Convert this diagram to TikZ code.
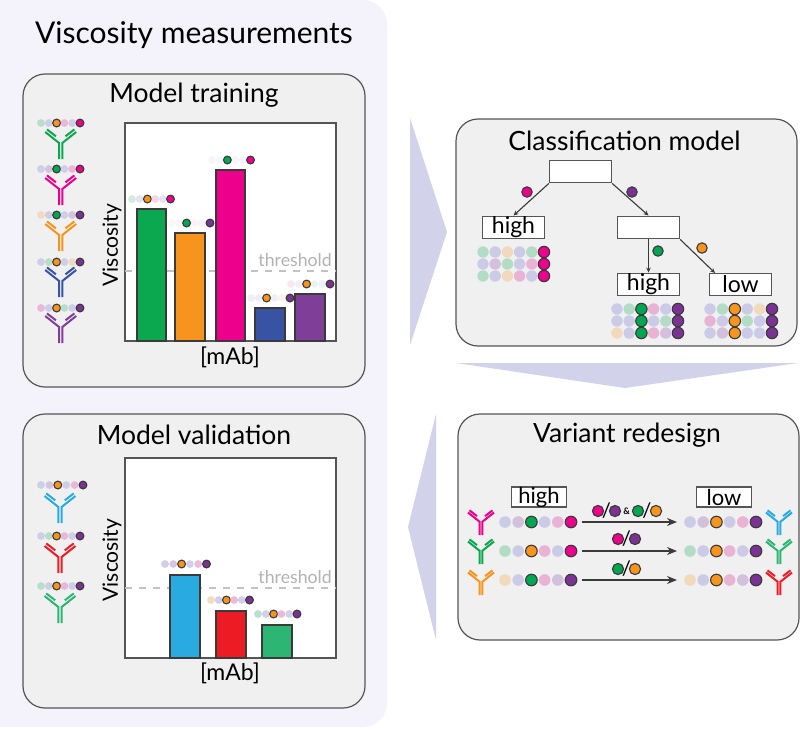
\documentclass[tikz,border=0pt]{standalone}
\usepackage{fontspec}
\setmainfont{Lato}
\usetikzlibrary{arrows.meta}
\definecolor{cardfill}{HTML}{F0F0F0}
\definecolor{cardline}{HTML}{555555}
\definecolor{panelbg}{HTML}{F4F2FB}
\definecolor{chev}{HTML}{D3D2EB}
\definecolor{ink}{HTML}{3A3A3A}
\definecolor{cG}{HTML}{0BA84F}
\definecolor{cO}{HTML}{F7941D}
\definecolor{cM}{HTML}{EC008C}
\definecolor{cB}{HTML}{3953A4}
\definecolor{cV}{HTML}{7F3F98}
\definecolor{cC}{HTML}{29ABE2}
\definecolor{cR}{HTML}{ED1C24}
\definecolor{cS}{HTML}{2DB573}
\definecolor{dG}{HTML}{00A651}
\definecolor{dV}{HTML}{7B3294}
\definecolor{pa}{HTML}{CBCBE8}
\definecolor{pg}{HTML}{B3DCC6}
\definecolor{pp}{HTML}{F1D9BC}
\definecolor{pk}{HTML}{E9B3D5}
\definecolor{pm}{HTML}{D2C0DC}
\def\paleop{1}
\tikzset{
  x=1pt,y=-1pt,
  card/.style={draw=cardline,fill=cardfill,line width=1.2pt,rounded corners=22pt},
  plot/.style={draw=cardline,fill=white,line width=1.6pt},
  bar/.style={draw=ink,line width=1.4pt},
  thr/.style={draw=black!24,line width=1.4pt,dash pattern=on 7pt off 7pt},
  thrtext/.style={text=black!30,font=\fontsize{17.7}{17.7}\selectfont,inner sep=0pt,anchor=base east},
  title/.style={font=\fontsize{26.5}{26.5}\selectfont,inner sep=0pt,text=black},
  axis/.style={font=\fontsize{21}{21}\selectfont,inner sep=0pt,text=black},
  mablabel/.style={font=\fontsize{23}{23}\selectfont,inner sep=0pt,text=black},
  leaf/.style={draw=cardline,fill=white,line width=1.4pt,minimum width=62pt,minimum height=22.5pt,inner sep=0pt,font=\fontsize{23}{23}\selectfont,text=black},
  small leaf/.style={leaf,minimum width=55pt,minimum height=20pt,font=\fontsize{22}{22}\selectfont},
  link/.style={draw=ink,line width=1.1pt,-{Stealth[length=5pt,width=4.5pt]}},
  bigarrow/.style={draw=ink,line width=1.4pt,-{Stealth[length=10pt,width=8pt]}},
  chevron/.style={fill=chev,draw=none},
  slash/.style={inner sep=0pt,font=\fontsize{20}{20}\selectfont},
  la/.style={fill=pa,fill opacity=\paleop},
  lg/.style={fill=pg,fill opacity=\paleop},
  lp/.style={fill=pp,fill opacity=\paleop},
  lk/.style={fill=pk,fill opacity=\paleop},
  lm/.style={fill=pm,fill opacity=\paleop},
  sg/.style={fill=dG,draw=ink,line width=1.1pt},
  so/.style={fill=cO,draw=ink,line width=1.1pt},
  sm/.style={fill=cM,draw=ink,line width=1.1pt},
  sv/.style={fill=dV,draw=ink,line width=1.1pt},
}
% #1 pale opacity, #2 x0, #3 y, #4 dx, #5 radius, #6 list of styles
\newcommand{\dotrow}[6]{\begin{scope}\def\paleop{#1}
  \foreach \st [count=\ii from 0] in {#6}{\path[\st] ({#2+\ii*#4},#3) circle[radius=#5pt];}
  \end{scope}}
% #1 centre x, #2 top y, #3 colour, #4 scale
\newcommand{\antibody}[4]{\begin{scope}[shift={(#1,#2)},scale=#4,line width=2pt,line join=miter]
  \draw[#3] (-15.5,3)--(-1.6,14)--(-1.6,30);
  \draw[#3] (15.5,3)--(1.6,14)--(1.6,30);
  \draw[#3] (-13.7,0.4)--(-4.8,7.3);
  \draw[#3] (13.7,0.4)--(4.8,7.3);
  \end{scope}}
\begin{document}
\begin{tikzpicture}
\useasboundingbox (0,0) rectangle (800,729);
\fill[white] (0,0) rectangle (800,729);
% outer panel
\fill[panelbg,rounded corners=24pt] (-30,0) rectangle (387,727);
\node[inner sep=0pt,font=\fontsize{30}{30}\selectfont] (maintitle) at (194,35) {Viscosity measurements};
% cards
\draw[card] (23,74) rectangle (365,387);
\draw[card] (23,414) rectangle (365,708);
\draw[card] (456,119) rectangle (797,346);
\draw[card] (458,414) rectangle (799,640);
\node[title] (t1) at (194,95) {Model training};
\node[title] (t2) at (194,435) {Model validation};
\node[title] (t3) at (624.5,141) {Classification model};
\node[title] (t4) at (627,435) {Variant redesign};
% chevrons
\fill[chevron] (410,118)--(447,232)--(410,345)--cycle;
\fill[chevron] (456,363)--(798,363)--(625,388)--cycle;
\fill[chevron] (436,414)--(436,640)--(408,527)--cycle;
% training chart
\draw[plot] (125,123) rectangle (336,341);
\draw[thr] (125,271)--(336,271);
\node[thrtext] (th1) at (332,266) {threshold};
\draw[bar,fill=cG] (137,341) rectangle (166,209);
\draw[bar,fill=cO] (175,341) rectangle (205,233);
\draw[bar,fill=cM] (216,341) rectangle (245,170);
\draw[bar,fill=cB] (255,341) rectangle (285,308);
\draw[bar,fill=cV] (295,341) rectangle (325,294);
\dotrow{.55}{132}{199}{7.7}{3.9}{lg,la,so,lk,la,sm}
\dotrow{.18}{171}{223}{7.8}{3.9}{lp,la,sg,lk,lm,sv}
\dotrow{.18}{212}{160}{7.7}{3.9}{la,la,sg,la,lm,sm}
\dotrow{.3}{251}{298}{7.8}{3.9}{la,la,so,la,lp,sv}
\dotrow{.3}{291}{284}{7.8}{3.9}{lk,la,so,lg,la,sv}
\node[axis,rotate=90] (vy1) at (112,245) {Viscosity};
\node[mablabel] (mab1) at (230,357) {[mAb]};
% training antibodies
\dotrow{.9}{41}{123}{7.8}{3.9}{lg,la,so,lk,la,sm}
\antibody{60.7}{129}{cG}{1}
\dotrow{.9}{41}{169}{7.8}{3.9}{la,lm,sg,la,lk,sm}
\antibody{60.7}{175}{cM}{1}
\dotrow{.9}{41}{215}{7.8}{3.9}{lp,la,sg,la,lm,sv}
\antibody{60.7}{221}{cO}{1}
\dotrow{.9}{41}{262}{7.8}{3.9}{la,lg,so,la,lp,sv}
\antibody{60.7}{267}{cB}{1}
\dotrow{.9}{41}{308}{7.8}{3.9}{lk,la,so,lg,la,sv}
\antibody{60.7}{313}{cV}{1}
% validation chart
\draw[plot] (125,458) rectangle (336,658);
\draw[thr] (125,588)--(336,588);
\node[thrtext] (th2) at (332,583) {threshold};
\draw[bar,fill=cC] (170,658) rectangle (200,575);
\draw[bar,fill=cR] (216,658) rectangle (246,611);
\draw[bar,fill=cS] (262,658) rectangle (292,625);
\dotrow{.9}{165}{564}{8.3}{3.9}{la,lm,so,la,lk,sv}
\dotrow{.9}{211}{600}{7.7}{3.9}{lp,la,so,lk,la,sv}
\dotrow{.9}{258}{614}{7.8}{3.9}{lg,la,so,lk,la,sv}
\node[axis,rotate=90] (vy2) at (112,560) {Viscosity};
\node[mablabel] (mab2) at (230,673) {[mAb]};
% validation antibodies
\dotrow{.9}{41}{485}{8.4}{3.9}{la,lm,so,la,lk,sv}
\antibody{60}{493}{cC}{1}
\dotrow{.9}{41}{536}{7.8}{3.9}{la,lg,so,lk,la,sv}
\antibody{60}{543}{cR}{1}
\dotrow{.9}{41}{586}{7.8}{3.9}{lg,la,so,lk,la,sv}
\antibody{60}{593}{cS}{1}
% tree
\node[leaf] (root) at (580.5,171.5) {};
\node[leaf,anchor=center] (hl) at (513.5,227.5) {high};
\node[leaf] (mid) at (648.5,227.5) {};
\node[leaf] (hr) at (648.5,284.5) {high};
\node[leaf] (lr) at (740.5,284.5) {low};
\draw[link] (root.south west)--(hl.north);
\draw[link] (root.south east)--(mid.north);
\draw[link] (mid.south)--(hr.north);
\coordinate (lowin) at (715,273);
\draw[link] (mid.south east)--(lowin);
\path[sm] (527,192) circle[radius=5.2pt];
\path[sv] (632,192) circle[radius=5.2pt];
\path[sg] (658,251) circle[radius=5.2pt];
\path[so] (702,248) circle[radius=5.2pt];
\dotrow{1}{483}{252}{12.2}{5.7}{lg,la,lp,la,lg,sm}
\dotrow{1}{483}{264}{12.2}{5.7}{la,lm,lg,la,lk,sm}
\dotrow{1}{483}{276}{12.2}{5.7}{lg,la,lp,lk,la,sm}
\dotrow{1}{617}{309}{12.2}{5.7}{la,lg,sg,lk,la,sv}
\dotrow{1}{617}{321}{12.2}{5.7}{la,la,sg,la,lg,sv}
\dotrow{1}{617}{333}{12.2}{5.7}{lp,la,sg,lk,lm,sv}
\dotrow{1}{710}{309}{12.4}{5.7}{la,lg,so,la,lp,sv}
\dotrow{1}{710}{321}{12.4}{5.7}{lk,la,so,lg,la,sv}
\dotrow{1}{710}{333}{12.4}{5.7}{la,lm,so,la,la,sv}
% redesign
\node[small leaf] (rh) at (539,497) {high};
\node[small leaf] (rl) at (724,497) {low};
\coordinate (a1s) at (582,522); \coordinate (a1e) at (677,522);
\coordinate (a2s) at (582,551); \coordinate (a2e) at (677,551);
\coordinate (a3s) at (582,580); \coordinate (a3e) at (677,580);
\draw[bigarrow] (a1s)--(a1e);
\draw[bigarrow] (a2s)--(a2e);
\draw[bigarrow] (a3s)--(a3e);
\dotrow{1}{505}{522}{13.2}{5.8}{la,lm,sg,la,lk,sm}
\dotrow{1}{505}{551}{13.2}{5.8}{lg,la,so,lk,la,sm}
\dotrow{1}{505}{580}{13.2}{5.8}{lp,la,sg,lk,lm,sv}
\dotrow{1}{690}{522}{13.2}{5.8}{la,lm,so,la,lk,sv}
\dotrow{1}{690}{551}{13.2}{5.8}{lg,la,so,lk,la,sv}
\dotrow{1}{690}{580}{13.2}{5.8}{lp,la,so,lk,lm,sv}
\antibody{481}{510}{cM}{.84}
\antibody{481}{539}{cG}{.84}
\antibody{481}{570}{cO}{.84}
\antibody{779}{510}{cC}{.84}
\antibody{779}{539}{cS}{.84}
\antibody{779}{570}{cR}{.84}
% mutation labels
\path[sm] (598,511) circle[radius=5.6pt];
\path[sv] (615,511) circle[radius=5.6pt];
\path[sg] (638,511) circle[radius=5.6pt];
\path[so] (656,511) circle[radius=5.6pt];
\node[slash] (s1) at (606.5,511) {/};
\node[slash] (s2) at (647,511) {/};
\node[inner sep=0pt,font=\bfseries\fontsize{9}{9}\selectfont] (amp) at (626.5,511) {\&};
\path[sm] (618,539) circle[radius=5.6pt];
\path[sv] (635,539) circle[radius=5.6pt];
\node[slash] (s3) at (626.5,539) {/};
\path[sg] (618,569) circle[radius=5.6pt];
\path[so] (635,569) circle[radius=5.6pt];
\node[slash] (s4) at (626.5,569) {/};
\end{tikzpicture}
\end{document}
